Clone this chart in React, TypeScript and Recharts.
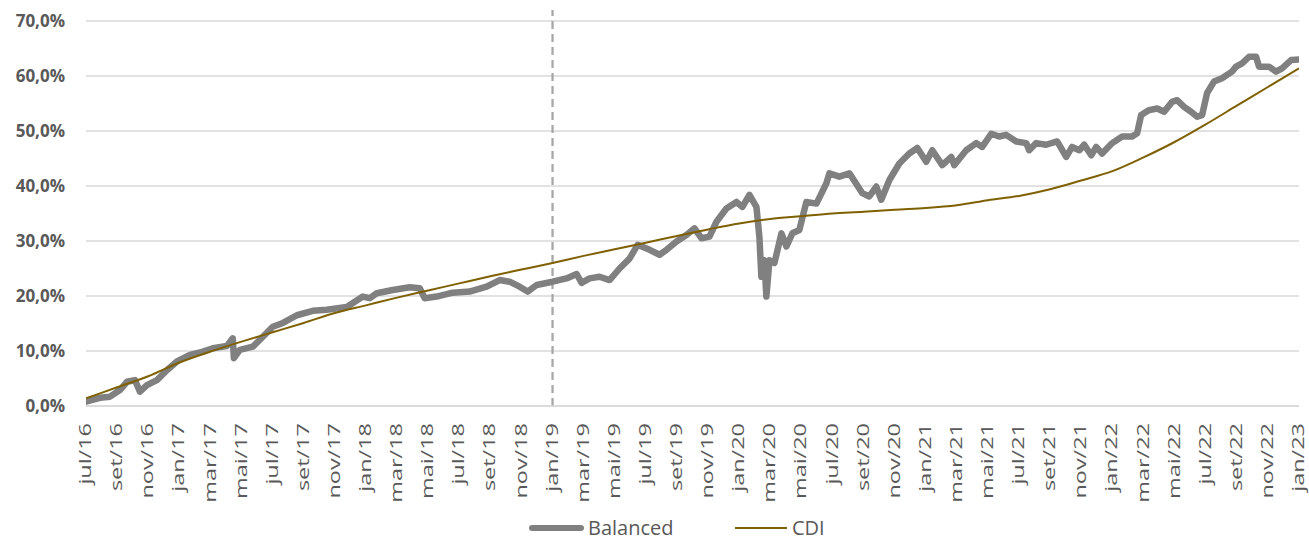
import React from 'react';
import { LineChart, Line, XAxis, YAxis, CartesianGrid, ReferenceLine, Legend } from 'recharts';

// x = months since jul/16
const xTickLabels = [
  'jul/16', 'set/16', 'nov/16', 'jan/17', 'mar/17', 'mai/17', 'jul/17', 'set/17', 'nov/17',
  'jan/18', 'mar/18', 'mai/18', 'jul/18', 'set/18', 'nov/18', 'jan/19', 'mar/19', 'mai/19',
  'jul/19', 'set/19', 'nov/19', 'jan/20', 'mar/20', 'mai/20', 'jul/20', 'set/20', 'nov/20',
  'jan/21', 'mar/21', 'mai/21', 'jul/21', 'set/21', 'nov/21', 'jan/22', 'mar/22', 'mai/22',
  'jul/22', 'set/22', 'nov/22', 'jan/23',
];
const xTicks = xTickLabels.map((_, i) => i * 2);
const yTicks = [0, 10, 20, 30, 40, 50, 60, 70];

const balancedMonths = [
  0, 0.9, 1.54, 2.18, 2.63, 3.15, 3.47, 3.92, 4.56, 5.2,
  5.85, 6.68, 7.52, 8.16, 9.06, 9.44, 9.51, 9.89, 10.73, 11.37,
  12.01, 12.66, 13.56, 14.58, 15.48, 16.77, 17.8, 18.25, 18.7, 19.72,
  20.82, 21.46, 21.78, 22.55, 23.58, 24.67, 25.76, 26.6, 27.24, 27.88,
  28.4, 28.98, 30, 30.9, 31.55, 31.87, 32.38, 33.02, 33.67, 34.31,
  34.95, 35.47, 36.24, 36.88, 37.33, 37.97, 38.61, 39.13, 39.58, 40.09,
  40.54, 41.18, 41.83, 42.21, 42.66, 43.11, 43.3, 43.43, 43.62, 43.75,
  43.95, 44.27, 44.72, 45.04, 45.42, 45.87, 46.32, 46.97, 47.61, 47.8,
  48.44, 49.09, 49.92, 50.37, 50.82, 51.14, 51.66, 52.3, 52.94, 53.46,
  54.03, 54.42, 55.06, 55.64, 55.83, 56.6, 57.25, 57.63, 58.21, 58.72,
  59.17, 59.82, 60.46, 60.65, 61.1, 61.74, 62.45, 63.03, 63.41, 63.87,
  64.19, 64.64, 64.96, 65.34, 65.99, 66.63, 67.27, 67.59, 67.85, 68.36,
  68.88, 69.33, 69.84, 70.16, 70.61, 71.06, 71.45, 71.77, 72.09, 72.54,
  73.05, 73.69, 73.95, 74.34, 74.79, 75.24, 75.43, 76.07, 76.52, 76.91,
  77.49, 78,
];
const balancedValues = [
  0.8, 1.5, 1.7, 2.9, 4.4, 4.7, 2.6, 3.8, 4.7, 6.5,
  8.1, 9.3, 9.9, 10.5, 10.9, 12.3, 8.7, 10.2, 10.8, 12.6,
  14.4, 15.1, 16.5, 17.3, 17.5, 18.0, 19.9, 19.6, 20.5, 21.1,
  21.6, 21.4, 19.6, 19.9, 20.6, 20.8, 21.7, 22.9, 22.6, 21.7,
  20.8, 22.0, 22.6, 23.2, 24.0, 22.4, 23.2, 23.5, 22.9, 25.0,
  26.8, 29.3, 28.4, 27.5, 28.4, 29.9, 31.1, 32.3, 30.5, 30.8,
  33.5, 35.9, 37.1, 36.2, 38.4, 36.2, 30.8, 23.5, 26.5, 19.9,
  26.5, 26.0, 31.4, 29.0, 31.4, 32.0, 37.1, 36.8, 40.5, 42.3,
  41.7, 42.3, 38.7, 38.1, 39.9, 37.5, 41.1, 44.1, 45.9, 46.9,
  44.4, 46.5, 43.8, 45.3, 43.8, 46.5, 47.8, 47.1, 49.5, 49.0,
  49.3, 48.1, 47.8, 46.5, 47.8, 47.5, 48.1, 45.3, 47.1, 46.5,
  47.5, 45.6, 47.1, 45.9, 47.8, 49.0, 49.0, 49.6, 52.9, 53.8,
  54.1, 53.5, 55.3, 55.6, 54.4, 53.5, 52.6, 52.9, 56.9, 59.0,
  59.6, 60.8, 61.7, 62.3, 63.5, 63.5, 61.7, 61.7, 60.8, 61.4,
  62.9, 63.0,
];

const cdiMonths = xTicks;
const cdiValues = [
  1.4, 3.4, 5.4, 7.9, 9.9, 11.7, 13.4, 15.1, 16.9, 18.3,
  19.7, 21.0, 22.3, 23.6, 24.8, 26.0, 27.3, 28.5, 29.7, 30.9,
  32.1, 33.2, 34.0, 34.5, 35.0, 35.3, 35.7, 36.0, 36.5, 37.4,
  38.2, 39.4, 41.0, 42.7, 45.2, 48.0, 51.2, 54.6, 58.0, 61.4,
];

const balancedData = balancedMonths.map((m, i) => ({ m, v: balancedValues[i] }));
const cdiData = cdiMonths.map((m, i) => ({ m, v: cdiValues[i] }));

const splitMonth = 30; // jan/19
const TEXT = '#595959';
const FONT = '"Open Sans", "Noto Sans", sans-serif';

const XTick = (props: any) => {
  const { x, y, payload } = props;
  const label = xTickLabels[Math.round(payload.value / 2)];
  return (
    <text
      transform={`translate(${x},${y}) rotate(-90) scale(1.38,1)`}
      textAnchor="end"
      dy="0.3em"
      fontSize={17}
      fill={TEXT}
      fontFamily={FONT}
    >
      {label}
    </text>
  );
};

const LegendContent = () => (
  <div style={{ position: 'relative', width: 1309, height: 26, fontFamily: FONT }}>
    <svg width={1309} height={26} style={{ position: 'absolute', left: 0, top: 0 }}>
      <line x1={532} x2={581} y1={13} y2={13} stroke="#808080" strokeWidth={6} strokeLinecap="round" />
      <text x={588} y={13} dy="0.36em" fontSize={20} fill={TEXT} fontFamily={FONT}>Balanced</text>
      <line x1={735} x2={787} y1={13} y2={13} stroke="#7F6000" strokeWidth={2} />
      <text x={792} y={13} dy="0.36em" fontSize={20} fill={TEXT} fontFamily={FONT}>CDI</text>
    </svg>
  </div>
);

export default function App() {
  return (
    <div style={{ position: 'absolute', left: 0, top: 0, width: 1309, height: 541, background: '#fff' }}>
      <LineChart width={1309} height={541} margin={{ top: 21, right: 10, bottom: 0, left: 0 }}>
        <CartesianGrid horizontal vertical={false} stroke="#D9D9D9" strokeWidth={1.5} />
        <XAxis
          type="number"
          dataKey="m"
          domain={[0, 78]}
          ticks={xTicks}
          interval={0}
          tick={<XTick />}
          tickLine={false}
          tickSize={0}
          tickMargin={17}
          axisLine={{ stroke: '#D9D9D9', strokeWidth: 1.5 }}
          height={109}
          allowDataOverflow
        />
        <YAxis
          type="number"
          domain={[0, 70]}
          ticks={yTicks}
          interval={0}
          width={86}
          axisLine={false}
          tickLine={false}
          tickSize={0}
          tickMargin={21}
          tickFormatter={(v: number) => `${v.toFixed(1).replace('.', ',')}%`}
          tick={{ fill: TEXT, fontSize: 17, fontWeight: 700, fontFamily: FONT }}
          allowDataOverflow
        />
        <ReferenceLine
          segment={[{ x: splitMonth, y: 0 }, { x: splitMonth, y: 72 }]}
          stroke="#A6A6A6"
          strokeWidth={2.25}
          strokeDasharray="8 5"
          ifOverflow="visible"
        />
        <Line
          data={balancedData}
          dataKey="v"
          name="Balanced"
          type="linear"
          stroke="#808080"
          strokeWidth={6.5}
          strokeLinejoin="round"
          strokeLinecap="round"
          dot={false}
          activeDot={false}
          isAnimationActive={false}
        />
        <Line
          data={cdiData}
          dataKey="v"
          name="CDI"
          type="monotone"
          stroke="#7F6000"
          strokeWidth={2}
          dot={false}
          activeDot={false}
          isAnimationActive={false}
        />
        <Legend
          verticalAlign="bottom"
          height={26}
          wrapperStyle={{ left: 0, width: 1309 }}
          content={<LegendContent />}
        />
      </LineChart>
    </div>
  );
}
